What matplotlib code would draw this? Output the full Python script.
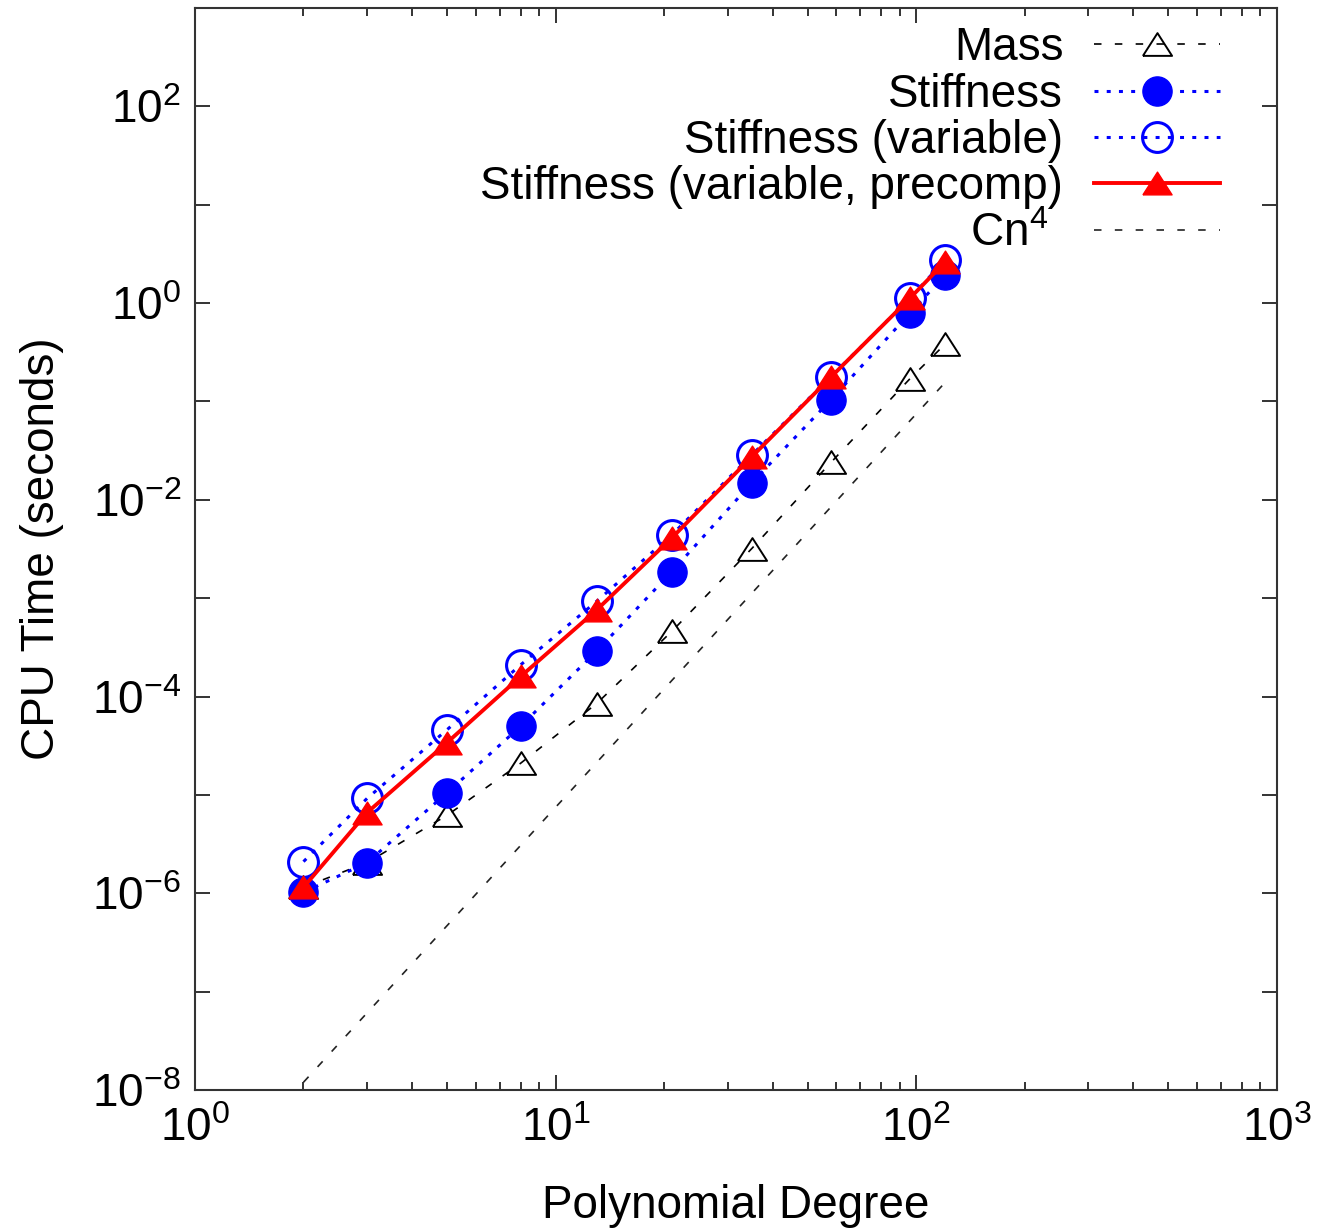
# coding:utf-8
import math
import matplotlib
matplotlib.use('Agg')
import matplotlib.pyplot as plt
from matplotlib.ticker import LogLocator, FuncFormatter, NullLocator

plt.rcParams['font.family'] = ['Liberation Sans', 'DejaVu Sans']
plt.rcParams['mathtext.fontset'] = 'custom'
plt.rcParams['mathtext.rm'] = 'Liberation Sans'
plt.rcParams['mathtext.default'] = 'regular'

# polynomial degree
degree = [2, 3, 5, 8, 13, 21, 35, 58, 96, 120]

# CPU time (seconds)
mass = [1.15e-6, 2.05e-6, 6.2e-6, 2.1e-5, 8.5e-5, 4.6e-4, 3.2e-3, 2.4e-2, 0.17, 0.38]
stiff = [1.02e-6, 2.05e-6, 1.05e-5, 5.0e-5, 2.9e-4, 1.86e-3, 1.49e-2, 0.104, 0.79, 1.92]
stiff_var = [2.1e-6, 9.2e-6, 4.6e-5, 2.1e-4, 9.3e-4, 4.4e-3, 2.86e-2, 0.179, 1.12, 2.73]
stiff_pre = [1.15e-6, 6.6e-6, 3.4e-5, 1.6e-4, 7.6e-4, 4.1e-3, 2.74e-2, 0.177, 1.12, 2.6]

# Cn^4 reference line (end points)
cn4_n = [2, 120]
cn4_t = [1.2e-8, 0.155]

labels = ['Mass', 'Stiffness', 'Stiffness (variable)',
          'Stiffness (variable, precomp)', 'Cn$^{4}$  ']

tri = [(-1, -0.78), (1, -0.78), (0, 0.78), (-1, -0.78)]   # gnuplot style flat triangle
dash = (0, (4.5, 8))
dot = (0, (1.3, 2.7))
fs = 33

fig = plt.figure(figsize=(13.17, 12.3), dpi=100)
ax = fig.add_axes([0.148, 0.1138, 0.8216, 0.8797])

ax.plot(degree, mass, color='black', lw=1.2, linestyle=dash,
        marker=tri, ms=21, mfc='none', mec='black', mew=1.4, label=labels[0])
ax.plot(degree, stiff, color='blue', lw=2.2, linestyle=dot,
        marker='o', ms=21, mfc='blue', mec='blue', mew=1, label=labels[1])
ax.plot(degree, stiff_var, color='blue', lw=2.2, linestyle=dot,
        marker='o', ms=21.5, mfc='none', mec='blue', mew=2.2, label=labels[2])
ax.plot(degree, stiff_pre, color='red', lw=2.8, linestyle='-',
        marker=tri, ms=21, mfc='red', mec='red', mew=1, label=labels[3])
ax.plot(cn4_n, cn4_t, color='#222222', lw=1.2, linestyle=dash, label=labels[4])

ax.set_xscale('log')
ax.set_yscale('log')
ax.set_xlim(1, 1000)
ax.set_ylim(1e-8, 1e3)

ax.xaxis.set_major_locator(LogLocator(base=10, numticks=10))
ax.xaxis.set_minor_locator(LogLocator(base=10, subs=range(2, 10), numticks=10))
ax.xaxis.set_major_formatter(FuncFormatter(lambda v, p: r'$10^{%d}$' % round(math.log10(v))))
ax.yaxis.set_major_locator(LogLocator(base=10, numticks=20))
ax.yaxis.set_minor_locator(NullLocator())


def ylab(v, p):
    e = round(math.log10(v))
    return r'$10^{%d}$' % e if e % 2 == 0 else ''   # label every second decade


ax.yaxis.set_major_formatter(FuncFormatter(ylab))

ax.tick_params(which='both', direction='in', top=True, right=True,
               labelsize=fs, width=1.4, color='#333333')
ax.tick_params(which='major', length=11)
ax.tick_params(which='minor', length=6)
ax.tick_params(axis='x', pad=12)
ax.tick_params(axis='y', pad=10)
for s in ax.spines.values():
    s.set_linewidth(1.5)
    s.set_color('#333333')

ax.set_xlabel('Polynomial Degree', fontsize=fs, labelpad=24)
ax.set_ylabel('CPU Time (seconds)', fontsize=fs, labelpad=20)

ax.legend(loc='upper right', bbox_to_anchor=(0.947, 0.983), frameon=False,
          fontsize=fs, markerfirst=False, numpoints=1, handlelength=2.75,
          handletextpad=0.66, labelspacing=0.05, borderpad=0, borderaxespad=0)

plt.savefig('out.png', dpi=100)
